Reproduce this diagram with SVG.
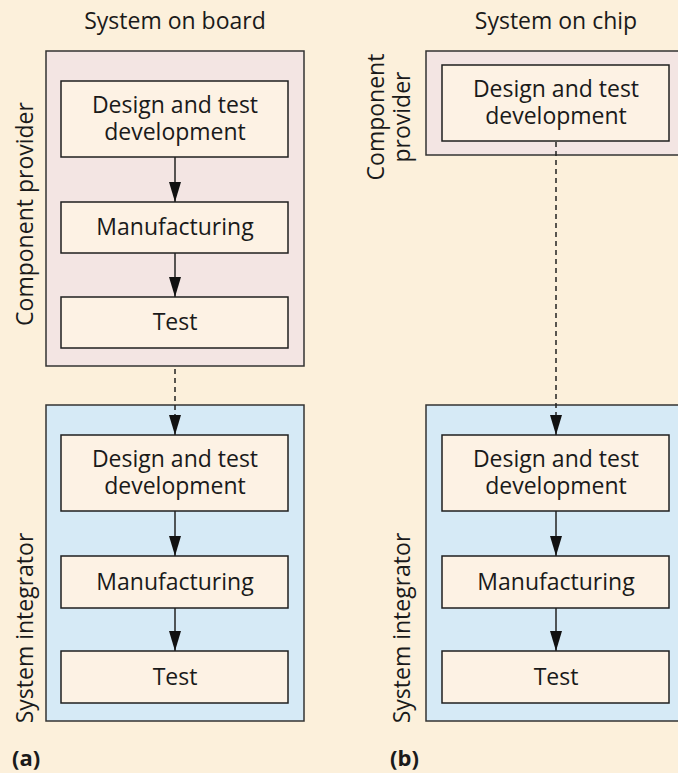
<svg xmlns="http://www.w3.org/2000/svg" width="678" height="773" viewBox="0 0 678 773">
  <defs>
    <style>
      .bg { fill: #fcf0db; }
      .provider { fill: #f3e5e3; stroke: #333; stroke-width: 1.5; }
      .integrator { fill: #d6eaf6; stroke: #333; stroke-width: 1.5; }
      .step { fill: #fdf2e4; stroke: #1f1f1f; stroke-width: 1.5; }
      .lbl { font-family: "Open Sans", "Liberation Sans", sans-serif; font-size: 23px; fill: #1a1a1a; text-anchor: middle; }
      .tag { font-family: "Open Sans", "Liberation Sans", sans-serif; font-size: 22px; font-weight: bold; fill: #1a1a1a; }
      .flow { stroke: #222; stroke-width: 1.5; fill: none; marker-end: url(#ah); }
      .dash { stroke-dasharray: 5 4; }
    </style>
    <marker id="ah" viewBox="0 0 20 12" refX="20" refY="6" markerWidth="20" markerHeight="12" markerUnits="userSpaceOnUse" orient="auto">
      <path d="M0,0 L20,6 L0,12 z" fill="#111"/>
    </marker>
  </defs>

  <rect class="bg" x="0" y="0" width="678" height="773"/>

  <!-- column titles -->
  <text class="lbl" x="175" y="29">System on board</text>
  <text class="lbl" x="556" y="29">System on chip</text>

  <!-- (a) system on board -->
  <g id="a-provider">
    <rect class="provider" x="46" y="51" width="258" height="315"/>
    <text class="lbl" transform="translate(33,214) rotate(-90)">Component provider</text>
  </g>
  <g id="a-prov-design">
    <rect class="step" x="61" y="81" width="227" height="76"/>
    <text class="lbl" x="175" y="113">Design and test</text>
    <text class="lbl" x="175" y="140">development</text>
  </g>
  <g id="a-prov-manufacturing">
    <rect class="step" x="61" y="202" width="227" height="51"/>
    <text class="lbl" x="175" y="235">Manufacturing</text>
  </g>
  <g id="a-prov-test">
    <rect class="step" x="61" y="297" width="227" height="51"/>
    <text class="lbl" x="175" y="330">Test</text>
  </g>

  <g id="a-integrator">
    <rect class="integrator" x="46" y="405" width="258" height="316"/>
    <text class="lbl" transform="translate(33,628) rotate(-90)">System integrator</text>
  </g>
  <g id="a-int-design">
    <rect class="step" x="61" y="435" width="227" height="76"/>
    <text class="lbl" x="175" y="467">Design and test</text>
    <text class="lbl" x="175" y="494">development</text>
  </g>
  <g id="a-int-manufacturing">
    <rect class="step" x="61" y="556" width="227" height="52"/>
    <text class="lbl" x="175" y="590">Manufacturing</text>
  </g>
  <g id="a-int-test">
    <rect class="step" x="61" y="651" width="227" height="52"/>
    <text class="lbl" x="175" y="685">Test</text>
  </g>

  <!-- (b) system on chip -->
  <g id="b-provider">
    <rect class="provider" x="426" y="51" width="262" height="104"/>
    <text class="lbl" transform="translate(384,117) rotate(-90)">Component</text>
    <text class="lbl" transform="translate(410,117) rotate(-90)">provider</text>
  </g>
  <g id="b-prov-design">
    <rect class="step" x="442" y="65" width="227" height="76"/>
    <text class="lbl" x="556" y="97">Design and test</text>
    <text class="lbl" x="556" y="124">development</text>
  </g>

  <g id="b-integrator">
    <rect class="integrator" x="426" y="405" width="262" height="316"/>
    <text class="lbl" transform="translate(410,628) rotate(-90)">System integrator</text>
  </g>
  <g id="b-int-design">
    <rect class="step" x="442" y="435" width="227" height="76"/>
    <text class="lbl" x="556" y="467">Design and test</text>
    <text class="lbl" x="556" y="494">development</text>
  </g>
  <g id="b-int-manufacturing">
    <rect class="step" x="442" y="556" width="227" height="52"/>
    <text class="lbl" x="556" y="590">Manufacturing</text>
  </g>
  <g id="b-int-test">
    <rect class="step" x="442" y="651" width="227" height="52"/>
    <text class="lbl" x="556" y="685">Test</text>
  </g>

  <!-- connectors -->
  <g id="connectors">
    <line class="flow" x1="175" y1="157" x2="175" y2="202"/>
    <line class="flow" x1="175" y1="253" x2="175" y2="297"/>
    <line class="flow dash" x1="175" y1="369" x2="175" y2="435"/>
    <line class="flow" x1="175" y1="511" x2="175" y2="556"/>
    <line class="flow" x1="175" y1="608" x2="175" y2="651"/>
    <line class="flow dash" x1="556" y1="142" x2="556" y2="435"/>
    <line class="flow" x1="556" y1="511" x2="556" y2="556"/>
    <line class="flow" x1="556" y1="608" x2="556" y2="651"/>
  </g>

  <!-- panel tags -->
  <text class="tag" x="12" y="766">(a)</text>
  <text class="tag" x="390" y="766">(b)</text>
</svg>
